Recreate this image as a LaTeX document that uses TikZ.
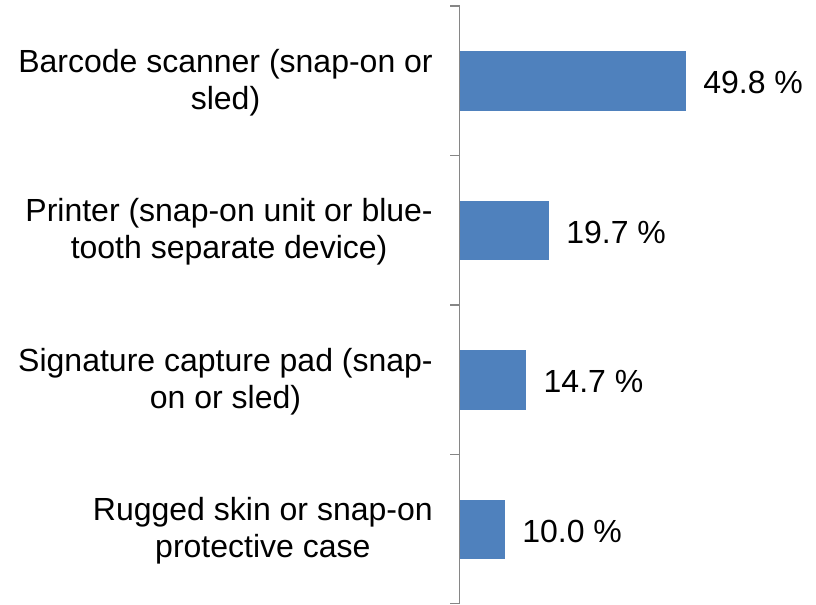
\documentclass[tikz,border=0pt]{standalone}
\usepackage{fontspec}
\setmainfont{Liberation Sans}
\definecolor{barblue}{HTML}{4F81BD}
\definecolor{axisgray}{HTML}{868686}
\begin{document}
\begin{tikzpicture}[x=0.75pt,y=-0.75pt,
  bar/.style={fill=barblue,draw=none},
  axisline/.style={draw=axisgray,line width=1.1pt},
  catlabel/.style={anchor=east,align=center,inner sep=0pt,font=\fontsize{24}{27.6}\selectfont},
  vallabel/.style={anchor=west,inner sep=0pt,font=\fontsize{24}{27.6}\selectfont}]
\useasboundingbox (0,0) rectangle (816,604);
% bars
\fill[bar] (459.5,51.3) rectangle (686,110.7);
\fill[bar] (459.5,200.8) rectangle (549,260.2);
\fill[bar] (459.5,350.3) rectangle (526.4,409.7);
\fill[bar] (459.5,499.8) rectangle (505,559.2);
% axis
\coordinate (atop) at (459.5,6);
\coordinate (abot) at (459.5,604);
\draw[axisline] (atop) -- (abot);
\foreach \y in {6,155.5,305,454.5,603.4}
  \draw[axisline] (450,\y) -- (459.5,\y);
% category labels
\node[catlabel] (c1) at (433,82.5) {Barcode scanner (snap-on or\\sled)};
\node[catlabel] (c2) at (433,232) {Printer (snap-on unit or blue-\\tooth separate device)};
\node[catlabel] (c3) at (433,381.5) {Signature capture pad (snap-\\on or sled)};
\node[catlabel] (c4) at (433,531) {Rugged skin or snap-on\\protective case};
% value labels
\node[vallabel] (v1) at (703,82.5) {49.8 \%};
\node[vallabel] (v2) at (566,232) {19.7 \%};
\node[vallabel] (v3) at (543.4,381.5) {14.7 \%};
\node[vallabel] (v4) at (522,531) {10.0 \%};
\end{tikzpicture}
\end{document}
